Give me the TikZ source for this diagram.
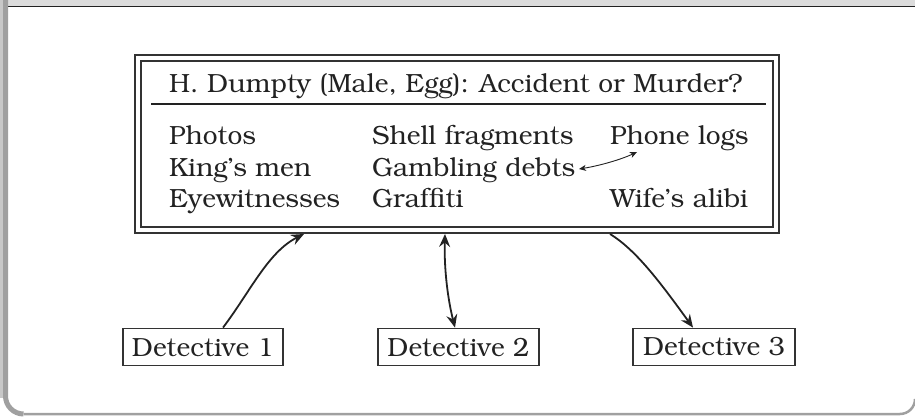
\documentclass[tikz,border=0pt]{standalone}
\IfFileExists{t1pbk.fd}{\usepackage[T1]{fontenc}\usepackage{bookman}}{\usepackage{fontspec}\setmainfont{DejaVu Serif}}
\usetikzlibrary{arrows.meta}
\definecolor{ink}{HTML}{222222}
\definecolor{edge}{HTML}{333333}
\definecolor{band}{HTML}{DCDCDC}
\definecolor{rim}{HTML}{A0A0A0}
\definecolor{rimlight}{HTML}{C8C8C8}
\tikzset{
  txt/.style={anchor=base west, inner sep=0pt, text=ink, font=\fontsize{26.3}{30}\selectfont},
  dbox/.style={draw=edge, line width=1.8pt, inner sep=0pt, minimum height=37pt, text=ink, font=\fontsize{26.3}{30}\selectfont},
  arr/.style={draw=ink, line width=1.8pt, -{Stealth[length=13pt,width=11pt,inset=4.5pt]}},
  darr/.style={draw=ink, line width=1.8pt, {Stealth[length=13pt,width=11pt,inset=4.5pt]}-{Stealth[length=13pt,width=11pt,inset=4.5pt]}},
  thinarr/.style={draw=ink, line width=0.9pt, {Stealth[length=7pt,width=6pt,inset=2pt]}-{Stealth[length=7pt,width=6pt,inset=2pt]}}
}
\begin{document}
\begin{tikzpicture}[x=1pt,y=-1pt]
\useasboundingbox (0,0) rectangle (915,417);
% frame
\fill[band] (0,0) rectangle (915,6);
\fill[ink] (0,5.8) rectangle (915,7.3);
\fill[rimlight] (0,0) rectangle (2.5,398);
\draw[rim, line width=5pt] (5.5,0) -- (5.5,396) arc[start angle=180, end angle=90, radius=18];
\draw[rim, line width=2.5pt] (23.5,414) -- (900,414) arc[start angle=90, end angle=0, radius=15];
% main box
\node[draw=edge, line width=1.8pt, double=white, double distance=4.2pt, minimum width=638pt, minimum height=172pt, inner sep=0pt] (main) at (457,144) {};
\node[txt] (title) at (169,93) {H. Dumpty (Male, Egg): Accident or Murder?};
\draw[ink, line width=2.6pt] (151,104) -- (766,104);
\node[txt] (c11) at (169,145) {Photos};
\node[txt] (c12) at (169,176) {King's men};
\node[txt] (c13) at (169,207) {Eyewitnesses};
\node[txt] (c21) at (372,145) {Shell fragments};
\node[txt] (c22) at (372,176) {Gambling debts};
\node[txt] (c23) at (372,207) {Graffiti};
\node[txt] (c31) at (610,145) {Phone logs};
\node[txt] (c33) at (610,207) {Wife's alibi};
\coordinate (gA) at (579,169);
\coordinate (gB) at (637,152);
\draw[thinarr] (gA) .. controls (598,166) and (620,160) .. (gB);
% detectives
\node[dbox, minimum width=160pt] (d1) at (203,347) {Detective 1};
\node[dbox, minimum width=161pt] (d2) at (458.5,347) {Detective 2};
\node[dbox, minimum width=162pt] (d3) at (714,347) {Detective 3};
\coordinate (t1) at (304,234);
\coordinate (t2) at (445,234);
\coordinate (t3) at (610,234);
\draw[arr] (d1.north -| 223,0) .. controls (250,292) and (268,252) .. (t1);
\draw[darr] (t2) .. controls (444,270) and (448,300) .. (d2.north -| 455,0);
\draw[arr] (t3) .. controls (636,250) and (660,282) .. (d3.north -| 693,0);
\end{tikzpicture}
\end{document}
